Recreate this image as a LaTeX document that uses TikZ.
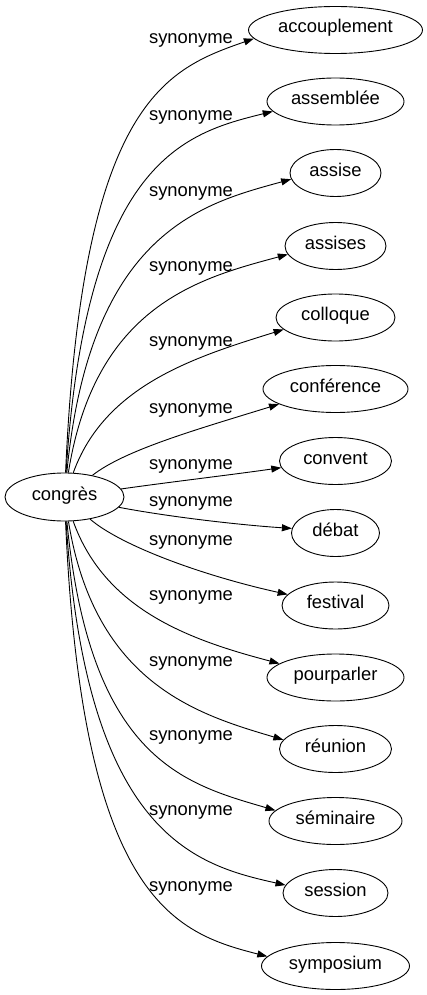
\documentclass[tikz,border=0pt]{standalone}
\usepackage{fontspec}
\setmainfont{Liberation Sans}
\usetikzlibrary{shapes.geometric,arrows.meta}
\begin{document}
\begin{tikzpicture}[x=1pt,y=-1pt,
  word/.style={ellipse,draw,line width=0.9pt,inner sep=0pt,minimum height=47pt,
    text height=0.8em,text depth=0.2em,font=\fontsize{18.4}{20}\selectfont},
  lab/.style={inner sep=0pt,font=\fontsize{18.4}{20}\selectfont},
  edge/.style={line width=0.9pt,-{Triangle[length=10pt,width=7pt]}}]

  \useasboundingbox (0,0) rectangle (427,995);

  \node[word,minimum width=119pt,minimum height=48pt] (congres) at (64.5,497) {congrès};

  \foreach \n/\t/\y/\w in {accouplement/accouplement/30/174, assemblee/assemblée/101.5/137,
      assise/assise/173/91, assises/assises/246/101, colloque/colloque/317.5/119,
      conference/conférence/389/145, convent/convent/461/112, debat/débat/533/88,
      festival/festival/605.5/107, pourparler/pourparler/677.5/137, reunion/réunion/749/112,
      seminaire/séminaire/821/133, session/session/893/105, symposium/symposium/966/148}{
    \node[word,minimum width=\w pt] (\n) at (335.5,\y) {\t};
  }

  \foreach \n/\a/\ly/\ax/\ay/\bx/\by in {accouplement/186.5/40/82/100/167/69,
      assemblee/189.4/117/86/160/185/133, assise/188.9/193/90/230/205/203,
      assises/190.3/268/95/305/200/278, colloque/193.4/343/105/385/195/357,
      conference/195.5/410/125/450/195/430, convent/187.4/466/170/482/230/475,
      debat/174.8/503/170/517/240/525, festival/167.8/542/120/545/200/575,
      pourparler/166.1/597/105/610/190/640, reunion/170.4/663/95/685/200/715,
      seminaire/170/737/90/760/185/784, session/171.3/812/86/835/195/865,
      symposium/172.8/888/82/900/175/933}{
    \node[lab] (l\n) at (191,\ly) {synonyme};
    \draw[edge] (congres) .. controls (\ax,\ay) and (\bx,\by) .. (\n.\a);
  }
\end{tikzpicture}
\end{document}
